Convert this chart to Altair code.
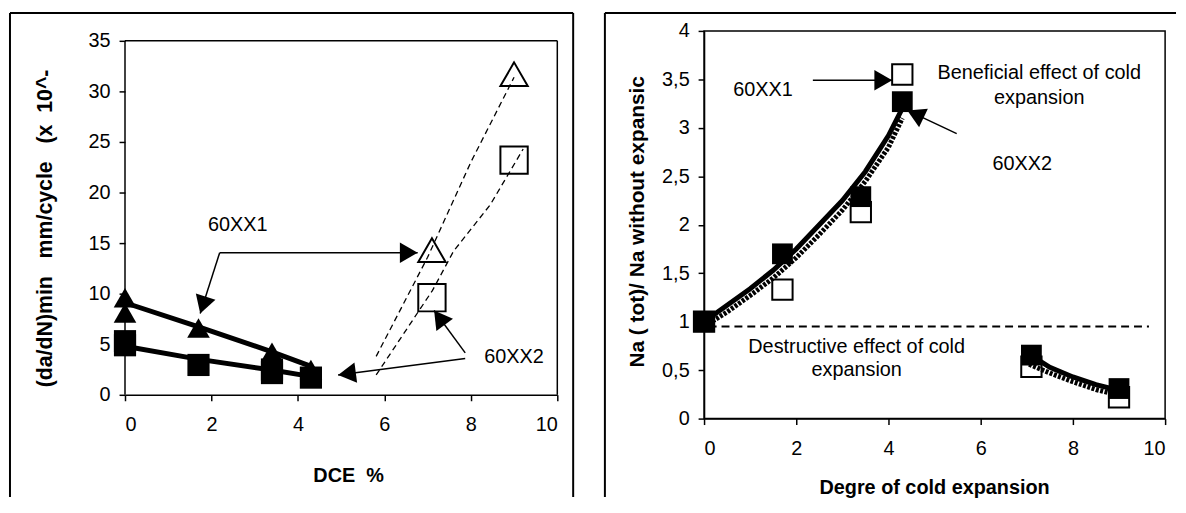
import math
import altair as alt
import pandas as pd

FONT = "Liberation Sans"
NB = "\u00a0"

# ---------------- left panel data ----------------
l_tri_x = [0, 0, 1.7, 3.4, 4.3]
l_tri_y = [9.6, 8.1, 6.6, 4.2, 2.5]
l_sq_x = [0, 0, 1.7, 3.4, 3.4, 4.3]
l_sq_y = [5.3, 4.9, 2.95, 2.5, 2.15, 1.7]
l_otri_x = [7.1, 9.0]
l_otri_y = [14.3, 31.7]
l_osq_x = [7.1, 9.0]
l_osq_y = [9.6, 23.2]
l_trend_tri_x = [0, 1.72, 3.4, 4.32]
l_trend_tri_y = [9.1, 6.7, 4.25, 2.78]
l_trend_sq_x = [0, 1.72, 3.4, 4.32]
l_trend_sq_y = [4.8, 3.5, 2.45, 1.8]
l_dash1_x = [5.81, 7.0, 8.0, 9.0]
l_dash1_y = [3.8, 13.6, 23.0, 31.4]
l_dash2_x = [5.81, 7.11, 7.6, 8.45, 9.21]
l_dash2_y = [1.96, 10.3, 14.2, 18.8, 24.3]

l_text = ["60XX1", "60XX2"]
l_text_x = [2.61, 9.0]
l_text_y = [16.76, 3.75]
# arrows: tail -> tip (data coords)
l_arrow_tail_x = [2.19, 2.19, 7.87, 7.87]
l_arrow_tail_y = [14.05, 14.05, 4.15, 3.6]
l_arrow_tip_x = [6.77, 1.74, 7.15, 4.93]
l_arrow_tip_y = [14.05, 8.04, 8.33, 1.96]

# ---------------- right panel data ----------------
r_fsq_x = [0, 1.7, 3.4, 4.3, 7.1, 9.0]
r_fsq_y = [1.0, 1.7, 2.29, 3.27, 0.655, 0.31]
r_osq_x = [0, 1.7, 3.4, 4.3, 7.1, 9.0]
r_osq_y = [1.0, 1.33, 2.13, 3.55, 0.535, 0.22]
r_solid1_x = [0, 0.5, 1.0, 1.5, 2.0, 2.5, 3.0, 3.5, 4.0, 4.3]
r_solid1_y = [1.0, 1.17, 1.34, 1.53, 1.75, 2.0, 2.25, 2.55, 2.92, 3.2]
r_dot1_x = [0.1, 0.5, 1.0, 1.5, 2.0, 2.5, 3.0, 3.5, 4.0, 4.3]
r_dot1_y = [0.98, 1.1, 1.27, 1.45, 1.66, 1.9, 2.15, 2.45, 2.8, 3.1]
r_solid2_x = [7.1, 7.5, 8.0, 8.5, 9.0]
r_solid2_y = [0.65, 0.53, 0.43, 0.35, 0.29]
r_dot2_x = [7.05, 7.5, 8.0, 8.5, 9.0]
r_dot2_y = [0.56, 0.47, 0.38, 0.3, 0.24]
r_hline_y = [0.95]
r_hline_x1 = [0.1]
r_hline_x2 = [9.65]

r_text = ["60XX1", "Beneficial effect of cold", "expansion", "60XX2",
          "Destructive effect of cold", "expansion"]
r_text_x = [1.28, 7.27, 7.27, 6.9, 3.31, 3.31]
r_text_y = [3.386, 3.57, 3.31, 2.63, 0.74, 0.50]
r_arrow_tail_x = [2.36, 5.48]
r_arrow_tail_y = [3.49, 2.94]
r_arrow_tip_x = [4.08, 4.41]
r_arrow_tip_y = [3.49, 3.18]

# ---------------- layout ----------------
LW, LH_BOX = 436, 357          # left plot box
L_EXTRA = 10                   # left plot box sits 10 px lower than the right one
LH = LH_BOX + L_EXTRA
L_YMAX = 35
L_YTOP = L_YMAX * LH / LH_BOX
RW, RH = 465, 391
HEAD = 430


def arrow_frames(tx, ty, px, py, sx, sy, size):
    rows_line, rows_head = [], []
    h = math.sqrt(size) * math.sqrt(3) / 4
    for a, b, c, d in zip(tx, ty, px, py):
        dx = (c - a) * sx
        dy = -(d - b) * sy
        L = math.hypot(dx, dy)
        ang = math.degrees(math.atan2(dx, -dy)) % 360
        cx = c - (dx / L) * h / sx
        cy = d + (dy / L) * h / sy
        rows_line.append({"x": a, "y": b, "x2": c, "y2": d})
        rows_head.append({"x": cx, "y": cy, "ang": ang})
    return pd.DataFrame(rows_line), pd.DataFrame(rows_head)


def series_df(pairs):
    rows = []
    for name, xs, ys in pairs:
        for i, (x, y) in enumerate(zip(xs, ys)):
            rows.append({"s": name, "x": x, "y": y, "o": i})
    return pd.DataFrame(rows)


def frame_layers(x_left, x_right, y_top, y_bottom, sides):
    one = pd.DataFrame({"a": [0]})
    layers = [alt.Chart(one).mark_rule(color="black", strokeWidth=2).encode(
        x=alt.value(x_left), x2=alt.value(x_right), y=alt.value(y_top))]
    if "left" in sides:
        layers.append(alt.Chart(one).mark_rule(color="black", strokeWidth=2).encode(
            x=alt.value(x_left), y=alt.value(y_top), y2=alt.value(y_bottom)))
    if "right" in sides:
        layers.append(alt.Chart(one).mark_rule(color="black", strokeWidth=2).encode(
            x=alt.value(x_right), y=alt.value(y_top), y2=alt.value(y_bottom)))
    return layers


# ----- left chart -----
lx_scale = alt.Scale(domain=[0, 10], nice=False)
ly_scale = alt.Scale(domain=[0, L_YTOP], nice=False)
lx_axis = alt.Axis(values=[0, 2, 4, 6, 8, 10], title="DCE" + NB * 2 + "%",
                   titleX=225, titleY=81, titleBaseline="middle", titleFontSize=20,
                   labelPadding=14)
ly_axis = alt.Axis(values=list(range(0, 36, 5)), domain=False,
                   title="(da/dN)min" + NB * 3 + "mm/cycle" + NB * 3 + "(x" + NB * 2 + "10^-",
                   titleAngle=270, titleAlign="left", titleBaseline="middle",
                   titleX=-80, titleY=349 + L_EXTRA, titleFontSize=21.5, labelPadding=9)


def LX(f="x"):
    return alt.X(f + ":Q", scale=lx_scale, axis=lx_axis)


def LY(f="y"):
    return alt.Y(f + ":Q", scale=ly_scale, axis=ly_axis)


l_trend = series_df([("tri", l_trend_tri_x, l_trend_tri_y), ("sq", l_trend_sq_x, l_trend_sq_y)])
l_dash = series_df([("d1", l_dash1_x, l_dash1_y), ("d2", l_dash2_x, l_dash2_y)])
l_line_df, l_head_df = arrow_frames(l_arrow_tail_x, l_arrow_tail_y, l_arrow_tip_x, l_arrow_tip_y,
                                    LW / 10, LH / L_YTOP, HEAD)
# plot box of the left panel (left side, top, right side) in data units
l_box = pd.DataFrame({"x": [0, 0, 10], "x2": [0, 10, 10],
                      "y": [0, L_YMAX, 0], "y2": [L_YMAX, L_YMAX, L_YMAX]})

left_layers = frame_layers(-116, 452, -18, 470, ["left", "right"]) + [
    alt.Chart(l_box).mark_rule(color="black", strokeWidth=1.5).encode(
        x=LX(), x2="x2:Q", y=LY(), y2="y2:Q"),
    alt.Chart(l_trend).mark_line(color="black", strokeWidth=5, strokeCap="butt").encode(
        x=LX(), y=LY(), detail="s:N", order="o:Q"),
    alt.Chart(l_dash).mark_line(color="black", strokeWidth=1.3, strokeDash=[6, 4]).encode(
        x=LX(), y=LY(), detail="s:N", order="o:Q"),
    alt.Chart(pd.DataFrame({"x": l_otri_x, "y": l_otri_y})).mark_point(
        shape="triangle-up", size=760, filled=False, stroke="black", strokeWidth=2, opacity=1).encode(
        x=LX(), y=LY()),
    alt.Chart(pd.DataFrame({"x": l_osq_x, "y": l_osq_y})).mark_point(
        shape="square", size=760, filled=False, stroke="black", strokeWidth=2, opacity=1).encode(
        x=LX(), y=LY()),
    alt.Chart(pd.DataFrame({"x": l_tri_x, "y": l_tri_y})).mark_point(
        shape="triangle-up", size=520, filled=True, color="black", opacity=1).encode(
        x=LX(), y=LY()),
    alt.Chart(pd.DataFrame({"x": l_sq_x, "y": l_sq_y})).mark_point(
        shape="square", size=500, filled=True, color="black", opacity=1).encode(
        x=LX(), y=LY()),
    alt.Chart(l_line_df).mark_rule(color="black", strokeWidth=1.5).encode(
        x=LX(), y=LY(), x2="x2:Q", y2="y2:Q"),
    alt.Chart(l_head_df).mark_point(shape="triangle-up", size=HEAD, filled=True,
                                    color="black", opacity=1).encode(
        x=LX(), y=LY(), angle=alt.Angle("ang:Q", scale=None)),
    alt.Chart(pd.DataFrame({"t": l_text, "x": l_text_x, "y": l_text_y})).mark_text(
        font=FONT, fontSize=20, color="black", align="center", baseline="middle").encode(
        x=LX(), y=LY(), text="t:N"),
]
left = alt.layer(*left_layers).properties(
    width=LW, height=LH, view=alt.ViewBackground(stroke="transparent"))

# ----- right chart -----
rx_scale = alt.Scale(domain=[0, 10], nice=False)
ry_scale = alt.Scale(domain=[0, 4], nice=False)
rx_axis = alt.Axis(values=[0, 2, 4, 6, 8, 10], title="Degre of cold expansion",
                   titleX=232, titleY=70, titleBaseline="middle", titleFontSize=20,
                   labelPadding=14)
ry_axis = alt.Axis(values=[0, 0.5, 1, 1.5, 2, 2.5, 3, 3.5, 4], format="~g",
                   labelExpr="replace(datum.label, '.', ',')",
                   title="Na ( tot)/ Na without expansic",
                   titleAngle=270, titleAlign="left", titleBaseline="middle",
                   titleX=-67, titleY=339, labelPadding=9)


def RX(f="x"):
    return alt.X(f + ":Q", scale=rx_scale, axis=rx_axis)


def RY(f="y"):
    return alt.Y(f + ":Q", scale=ry_scale, axis=ry_axis)


r_solid = series_df([("s1", r_solid1_x, r_solid1_y), ("s2", r_solid2_x, r_solid2_y)])
r_dot = series_df([("d1", r_dot1_x, r_dot1_y), ("d2", r_dot2_x, r_dot2_y)])
r_line_df, r_head_df = arrow_frames(r_arrow_tail_x, r_arrow_tail_y, r_arrow_tip_x, r_arrow_tip_y,
                                    RW / 10, RH / 4, HEAD)

right_layers = frame_layers(-100, 476, -18, 470, ["left"]) + [
    alt.Chart(pd.DataFrame({"x": r_hline_x1, "x2": r_hline_x2, "y": r_hline_y})).mark_rule(
        color="black", strokeWidth=2, strokeDash=[8, 5]).encode(x=RX(), x2="x2:Q", y=RY()),
    alt.Chart(pd.DataFrame({"x": r_osq_x, "y": r_osq_y})).mark_point(
        shape="square", size=420, filled=False, stroke="black", strokeWidth=2, opacity=1).encode(
        x=RX(), y=RY()),
    alt.Chart(r_dot).mark_line(color="black", strokeWidth=5, strokeDash=[3, 1.5]).encode(
        x=RX(), y=RY(), detail="s:N", order="o:Q"),
    alt.Chart(r_solid).mark_line(color="black", strokeWidth=5).encode(
        x=RX(), y=RY(), detail="s:N", order="o:Q"),
    alt.Chart(pd.DataFrame({"x": r_fsq_x, "y": r_fsq_y})).mark_point(
        shape="square", size=440, filled=True, color="black", opacity=1).encode(
        x=RX(), y=RY()),
    alt.Chart(r_line_df).mark_rule(color="black", strokeWidth=1.5).encode(
        x=RX(), y=RY(), x2="x2:Q", y2="y2:Q"),
    alt.Chart(r_head_df).mark_point(shape="triangle-up", size=HEAD, filled=True,
                                    color="black", opacity=1).encode(
        x=RX(), y=RY(), angle=alt.Angle("ang:Q", scale=None)),
    alt.Chart(pd.DataFrame({"t": r_text, "x": r_text_x, "y": r_text_y})).mark_text(
        font=FONT, fontSize=20, color="black", align="center", baseline="middle").encode(
        x=RX(), y=RY(), text="t:N"),
]
right = alt.layer(*right_layers).properties(width=RW, height=RH)

chart = alt.hconcat(left, right, spacing=28).properties(
    padding={"left": 0, "top": 1, "right": 0, "bottom": 0},
    background="white"
).configure_view(stroke="black", strokeWidth=1.5).configure_axis(
    grid=False, domainColor="black", domainWidth=1.5, tickColor="black", tickWidth=1.5,
    tickSize=6, labelFont=FONT, labelFontSize=20, labelColor="black",
    titleFont=FONT, titleFontSize=21, titleFontWeight="bold", titleColor="black"
)

chart.save("out.html", embed_options={"renderer": "svg", "actions": False})
